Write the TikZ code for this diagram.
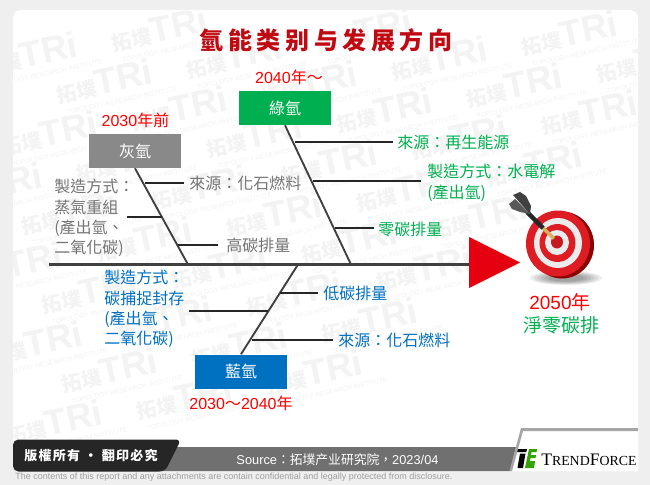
\documentclass[tikz,border=0pt]{standalone}
\usepackage{fontspec}
\setmainfont{Noto Sans CJK TC}
\newfontfamily\lat{Liberation Sans}
\newfontfamily\tfserif{Liberation Serif}
\newfontfamily\titlef[LetterSpace=19]{Noto Sans CJK SC}
\newfontfamily\tabf[LetterSpace=10]{Noto Sans CJK TC}
\usetikzlibrary{calc}
\definecolor{greybox}{HTML}{898989}
\definecolor{greenbox}{HTML}{00B050}
\definecolor{bluebox}{HTML}{0070C0}
\definecolor{bonecol}{HTML}{404040}
\definecolor{pagebg}{HTML}{EFEFEF}
\definecolor{titlered}{HTML}{C00A12}
\definecolor{tgtred}{HTML}{DD1C24}
\definecolor{wmk}{HTML}{F3F3F3}
\definecolor{arrowred}{HTML}{E4000F}
\tikzset{
  catbox/.style={minimum width=69pt,minimum height=25.5pt,inner sep=0pt,text=white,font=\fontsize{12}{14}\selectfont},
  bone/.style={draw=bonecol,line width=1.4pt},
  rib/.style={draw=black!85,line width=1.1pt},
  lab/.style={anchor=west,inner sep=0pt,align=left,font=\fontsize{12}{15.2}\selectfont},
  era/.style={inner sep=0pt,text=red,font=\fontsize{12}{14}\selectfont},
}
\begin{document}
\begin{tikzpicture}[x=0.75pt,y=-0.75pt]
\useasboundingbox (0,0) rectangle (650,485);
\fill[pagebg] (0,0) rectangle (650,485);
\fill[white,rounded corners=6pt] (13,10) rectangle (638,471);
% watermark
\begin{scope}
\clip[rounded corners=6pt] (13,10) rectangle (638,471);
\foreach \m in {-2,...,5}{\foreach \n in {-2,...,8}{
  \pgfmathsetmacro\xx{57+130*\m-55*\n}
  \pgfmathsetmacro\yy{97-25*\m+52*\n}
  \pgfmathtruncatemacro\inside{and(and(\xx>-60,\xx<600),and(\yy>25,\yy<450))}
  \ifnum\inside=1
  \path (\xx,\yy) node[rotate=12,anchor=west,inner sep=0pt,text=wmk,align=left] (wm\m x\n)
   {\fontsize{15}{16}\selectfont\bfseries 拓墣{\lat\bfseries\fontsize{27}{16}\selectfont TRi}\\[-3pt]{\lat\fontsize{5}{6}\selectfont\quad TOPOLOGY RESEARCH INSTITUTE}};
  \fi
}}
\end{scope}
% title
\node[inner sep=0pt,text=titlered,font=\titlef\fontsize{18}{20}\selectfont\bfseries] (title) at (326,40) {氫能类别与发展方向};
% boxes
\node[catbox,fill=greybox] (grey) at (135,151) {灰氫};
\node[catbox,fill=greenbox] (green) at (285,108) {綠氫};
\node[catbox,fill=bluebox] (blue) at (241,371.5) {藍氫};
\node[era] (e1) at (135.5,120) {{\lat 2030}年前};
\node[era] (e2) at (289,77) {{\lat 2040}年～};
\node[era] (e3) at (241,403) {{\lat 2030}～{\lat 2040}年};
% spine
\coordinate (sL) at (49,264.5);
\coordinate (sR) at (470,264.5);
\coordinate (gE) at (188,264.5);
\coordinate (grE) at (351,264.5);
\coordinate (bE) at (298,264.5);
\draw[bone,line width=1.9pt] (sL) -- (sR);
\draw[bone] (grey.south) -- (gE);
\draw[bone] (green.south) -- (grE);
\draw[bone] (blue.north) -- (bE);
\fill[arrowred] (469,237) -- (520,262.5) -- (469,288) -- cycle;
% ribs
\foreach \a/\b/\y/\nm in {145/184/183/ga,127/162/217/gb,178/218/245/gc,295/393/142/ha,313/421/181/hb,335/374/228/hc,280/318/293/ba,189/268/311/bb,252/333/340/bc}{
  \coordinate (\nm1) at (\a,\y); \coordinate (\nm2) at (\b,\y);
  \draw[rib] (\nm1) -- (\nm2);}
% labels
\node[lab,text=greybox!85!black,anchor=north west] (l1) at (54,179) {製造方式：\\蒸氣重組\\(產出氫、\\二氧化碳)};
\node[lab,text=greybox!85!black] (l2) at (189,183) {來源：化石燃料};
\node[lab,text=greybox!85!black] (l3) at (226,245) {高碳排量};
\node[lab,text=greenbox] (l4) at (397,142) {來源：再生能源};
\node[lab,text=greenbox,anchor=north west] (l5) at (427,164) {製造方式：水電解\\(產出氫)};
\node[lab,text=greenbox] (l6) at (378,229) {零碳排量};
\node[lab,text=bluebox,anchor=north west] (l7) at (104,270) {製造方式：\\碳捕捉封存\\(產出氫、\\二氧化碳)};
\node[lab,text=bluebox] (l8) at (323,293) {低碳排量};
\node[lab,text=bluebox] (l9) at (338,340) {來源：化石燃料};
\node[inner sep=0pt,text=red,font=\fontsize{14.25}{16}\selectfont] (y50) at (560,302) {{\lat 2050}年};
\node[inner sep=0pt,text=greenbox,font=\fontsize{14.25}{16}\selectfont] (nz) at (561,325) {淨零碳排};
% target shadow
\foreach \r in {1.0,.9,.8,.7,.6,.5}{
  \fill[black,opacity=.07] (566,278) ellipse ({36*\r} and {7*\r});}
% target
\fill[red!55!black] (562,245) ellipse (32 and 33.5);
\fill[tgtred] (558,243.5) ellipse (32 and 33);
\fill[white!92!black] (558,243) ellipse (24 and 25);
\fill[tgtred] (557.5,243) ellipse (18 and 19);
\fill[white!92!black] (557,242.5) ellipse (12 and 12.5);
\fill[tgtred!90!black] (557,242) ellipse (6 and 6.5);
% dart
\draw[draw={rgb,255:red,214;green,178;blue,90},line width=2.6pt] (543,228) -- (554,238.5);
\draw[draw=black!85,line width=3.2pt] (527,212) -- (543,228);
\fill[black!75] (513,195) -- (520,192) -- (526,196) -- (531,206) -- (530,214) -- cycle;
\fill[black!65] (509,204) -- (515,199) -- (530,214) -- (520,212) -- (512,209) -- cycle;
% footer
\fill[black!56] (160,447) -- (516,447) -- (510,471) -- (160,471) -- cycle;
\fill[white] (522,428) -- (638,428) -- (638,471) -- (512,471) -- cycle;
\fill[black!35] (521,428) -- (638,428) -- (638,431) -- (523,431) -- (512,471) -- (509.5,471) -- cycle;
\fill[black!85,rounded corners=4pt] (13,439.5) -- (181,439.5) -- (165,471.5) -- (13,471.5) -- cycle;
\node[inner sep=0pt,text=white,font=\tabf\fontsize{9.75}{12}\selectfont\bfseries] (tab) at (91,456) {版權所有 · 翻印必究};
\node[inner sep=0pt,text=white,font=\fontsize{9.6}{12}\selectfont] (src) at (337.5,460) {{\lat Source}：拓墣产业研究院，{\lat 2023/04}};
% logo
\fill[black] (518,449) -- (527,449) -- (526.3,452) -- (517.2,452) -- cycle;
\fill[black] (520,453.5) -- (525.5,453.5) -- (523,468) -- (517.5,468) -- cycle;
\fill[green!55!black!80!yellow] (529,449) -- (537,449) -- (536.5,452) -- (531.5,452) -- (531,455) -- (536,455) -- (535.5,458) -- (530.5,458) -- (530,461) -- (535,461) -- (534,468) -- (525,468) -- cycle;
\node[inner sep=0pt,anchor=west,font=\tfserif\fontsize{13.2}{12}\selectfont] (tf) at (541,459.5) {T{\fontsize{10.4}{12}\selectfont REND}F{\fontsize{10.4}{12}\selectfont ORCE}};
\node[inner sep=0pt,anchor=west,text=black!38,font=\lat\fontsize{6.75}{9}\selectfont] (disc) at (15,477.5) {The contents of this report and any attachments are contain confidential and legally protected from disclosure.};
\end{tikzpicture}
\end{document}
